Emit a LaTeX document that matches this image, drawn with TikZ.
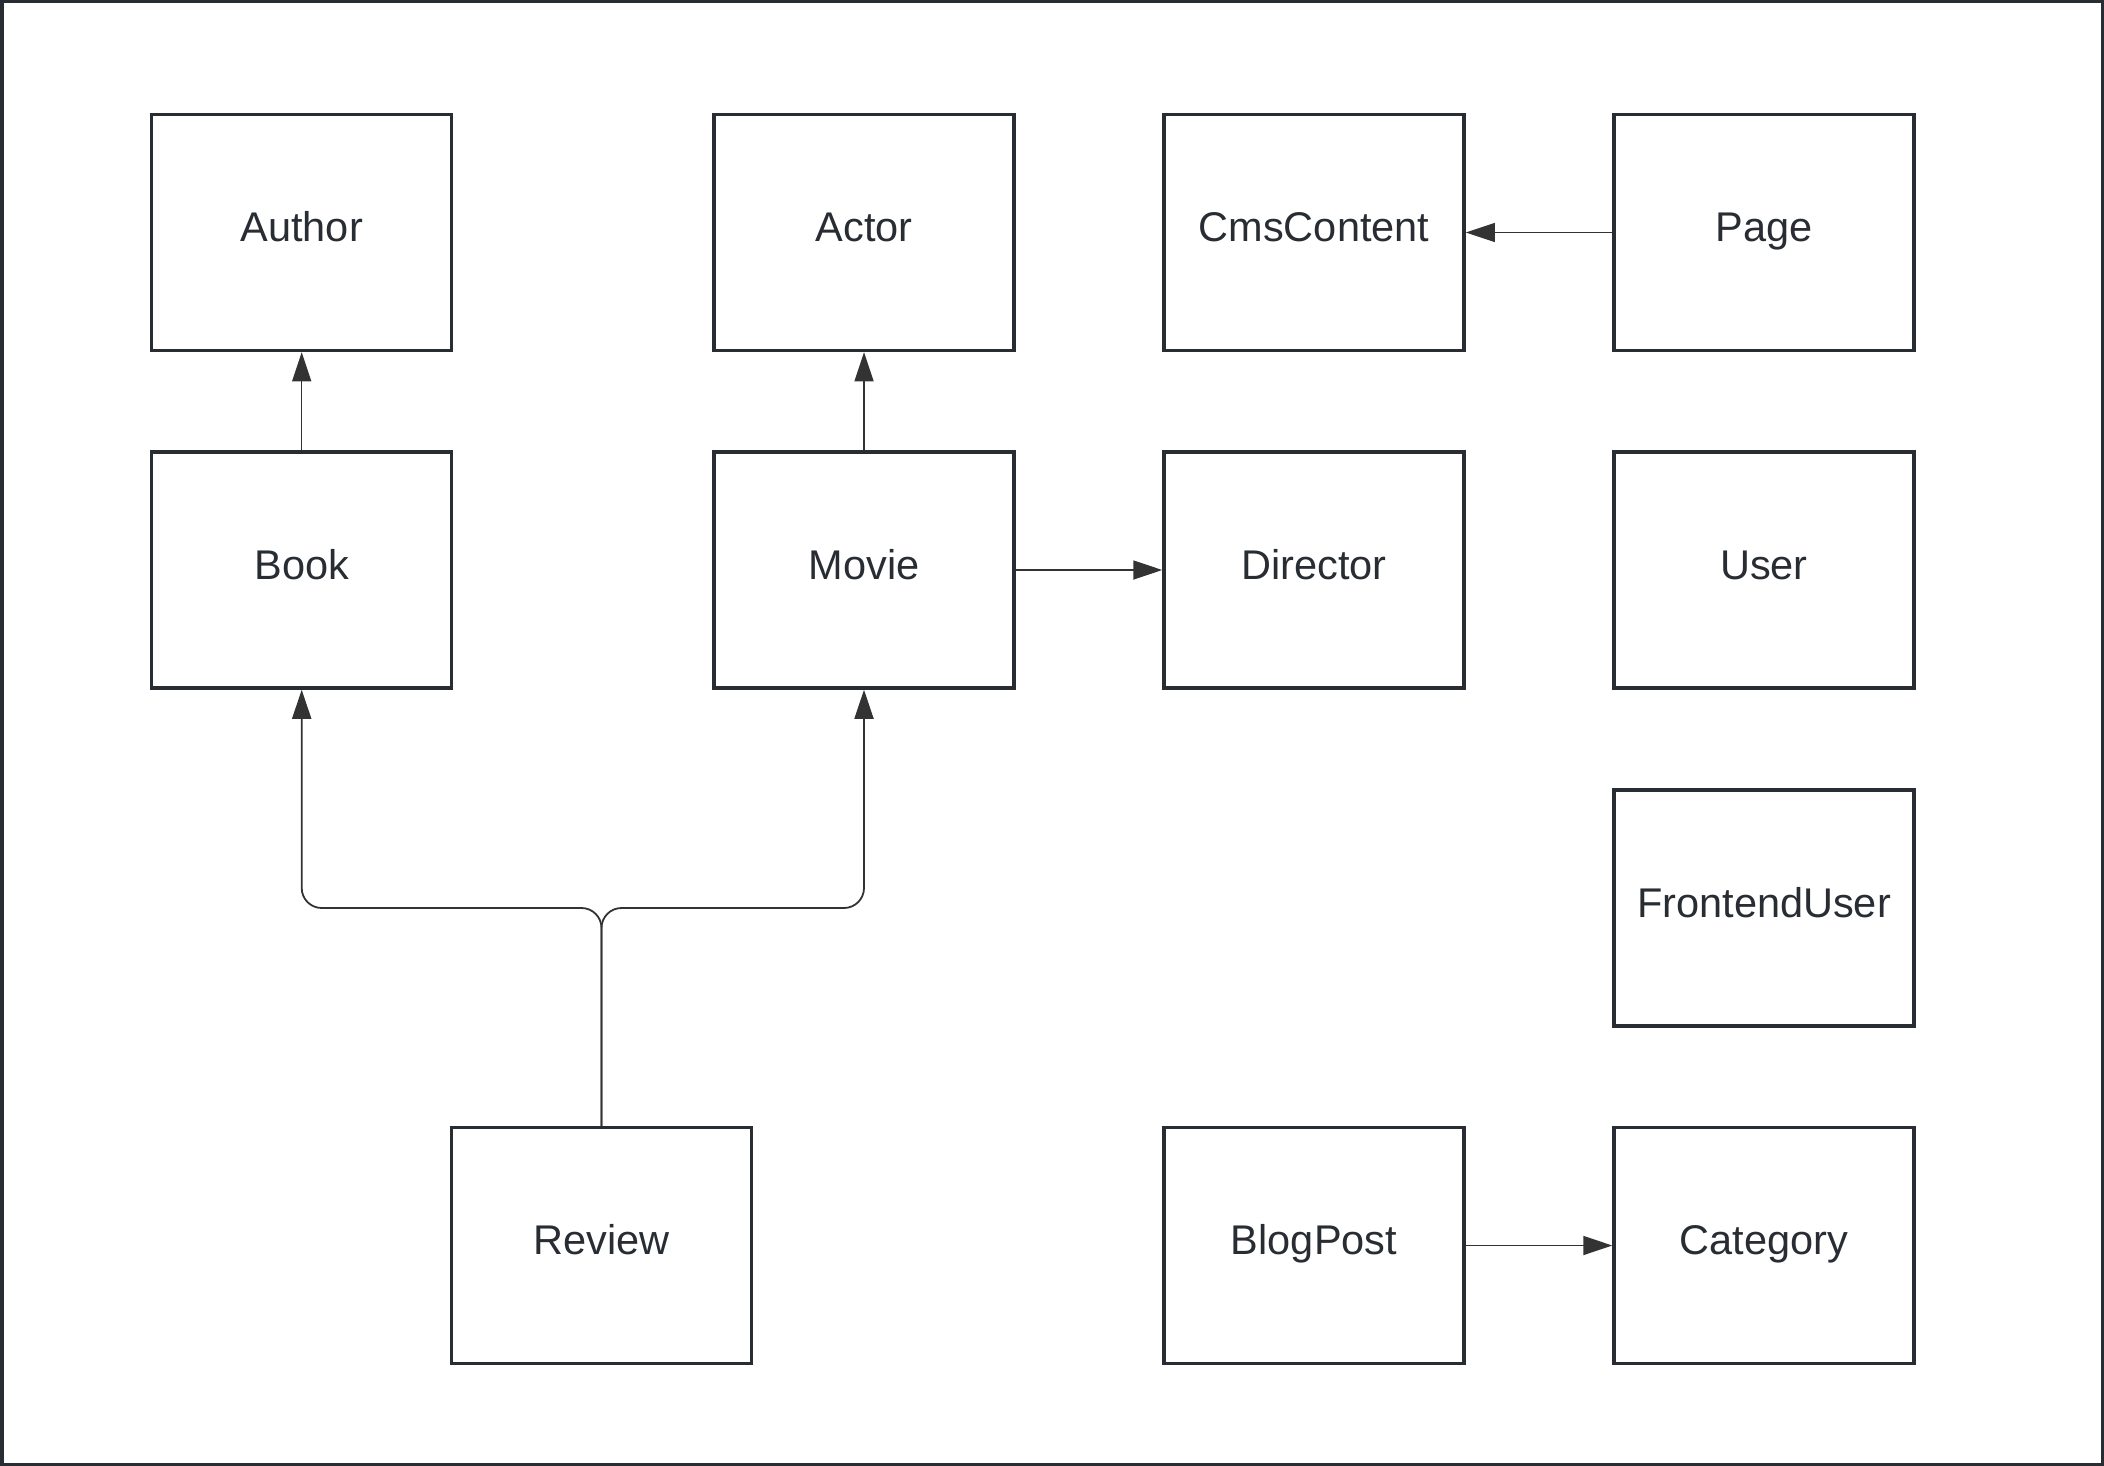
\documentclass[tikz,border=0pt]{standalone}
\usepackage{fontspec}
\setmainfont{Liberation Sans}
\usetikzlibrary{arrows.meta}
\definecolor{boxc}{HTML}{282C33}
\definecolor{arrc}{HTML}{333333}
\tikzset{
  entity/.style={draw=boxc, line width=3.5pt, minimum width=300pt, minimum height=236pt,
    inner sep=0pt, text=boxc, font=\fontsize{41.5}{50}\selectfont,
    text height=24pt, text depth=6pt},
  conn/.style={draw=arrc, line width=1.8pt, -{Triangle[length=29pt, width=19pt]}},
  thin/.style={line width=1.2pt}
}
\begin{document}
\begin{tikzpicture}[x=1pt, y=-1pt]
\useasboundingbox (0,0) rectangle (2104,1466);
\draw[draw=boxc, line width=3.5pt] (1.75,1.75) rectangle (2102.25,1464.25);
% row 1
\node[entity] (author) at (301.7,232.5) {Author};
\node[entity] (actor) at (864,232.5) {Actor};
\node[entity] (cms) at (1314,232.5) {CmsContent};
\node[entity] (page) at (1764,232.5) {Page};
% row 2
\node[entity] (book) at (301.7,570) {Book};
\node[entity] (movie) at (864,570) {Movie};
\node[entity] (director) at (1314,570) {Director};
\node[entity] (user) at (1764,570) {User};
% row 3
\node[entity] (frontend) at (1764,908) {FrontendUser};
% row 4
\node[entity] (review) at (601.5,1245.5) {Review};
\node[entity] (blog) at (1314,1245.5) {BlogPost};
\node[entity] (category) at (1764,1245.5) {Category};
\coordinate (fork) at (601.5,908);
% connectors
\draw[conn, thin] (book.north) -- (author.south);
\draw[conn, thin] (movie.north) -- (actor.south);
\draw[conn, thin] (page.west) -- (cms.east);
\draw[conn] (movie.east) -- (director.west);
\draw[conn] (blog.east) -- (category.west);
\draw[conn, rounded corners=20pt] (review.north) -- (fork) -| (book.south);
\draw[conn, rounded corners=20pt] (review.north) -- (fork) -| (movie.south);
\end{tikzpicture}
\end{document}
